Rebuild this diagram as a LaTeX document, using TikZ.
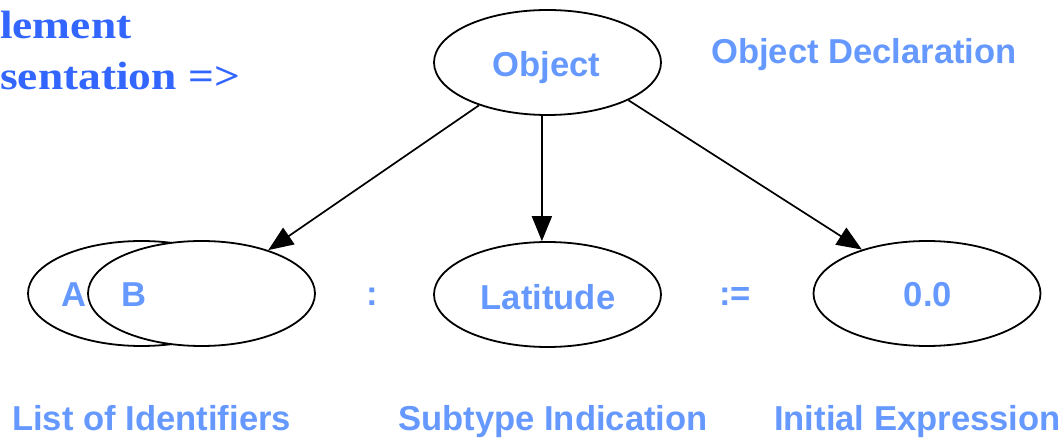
\documentclass[tikz,border=0pt]{standalone}
\usepackage{fontspec}
\setmainfont{Liberation Sans}
\newfontfamily\labelfont{Liberation Sans}[BoldFont={Liberation Sans Bold}]
\newfontfamily\headfont{Liberation Serif}[BoldFont={Liberation Serif Bold},BoldFeatures={FakeStretch=1.15}]
\usetikzlibrary{arrows.meta,shapes.geometric}
\definecolor{lblue}{RGB}{102,153,255}
\definecolor{hblue}{RGB}{51,102,255}
\tikzset{
  oval/.style={ellipse,draw=black,line width=1.8pt,inner sep=0pt,
    minimum width=227pt,minimum height=105pt},
  txt/.style={text=lblue,inner sep=0pt,
    font=\labelfont\bfseries\fontsize{34.6}{40}\selectfont},
  head/.style={text=hblue,inner sep=0pt,
    font=\headfont\bfseries\fontsize{39.5}{46}\selectfont},
  link/.style={line width=1.7pt,-{Triangle[length=25pt,width=20pt]}}
}
\begin{document}
\begin{tikzpicture}[x=1pt,y=-1pt]
\useasboundingbox (0,0) rectangle (1061,438);
% title fragment at the top left
\node[head,anchor=base west] (h1) at (0,39) {lement};
\node[head,anchor=base west] (h2) at (0,90) {sentation =>};
% root of the tree
\node[oval] (obj) at (547.5,62.5) {};
\node[txt,anchor=base] (objt) at (546.5,77) {Object};
\node[txt,anchor=base west] (decl) at (711,64) {Object Declaration};
% identifier list: two overlapping ovals
\node[oval] (a) at (141.5,293.5) {};
\node[oval,fill=white] (b) at (201.5,293.5) {};
\node[txt,anchor=base] (at) at (74,307) {A};
\node[txt,anchor=base] (bt) at (134,307) {B};
% subtype and initial value
\node[oval] (lat) at (547.5,294.5) {};
\node[txt,anchor=base] (latt) at (548,310) {Latitude};
\node[oval] (zero) at (927,293.5) {};
\node[txt,anchor=base] (zerot) at (928,307) {0.0};
% separators
\node[txt,anchor=base] (colon) at (372,306) {:};
\node[txt,anchor=base] (assign) at (735,306) {:=};
% captions
\node[txt,anchor=base west] (c1) at (12,431) {List of Identifiers};
\node[txt,anchor=base west] (c2) at (398,431) {Subtype Indication};
\node[txt,anchor=base west] (c3) at (774,431) {Initial Expression};
% edges
\draw[link] (obj.212) -- (b.33);
\draw[link] (obj.264) -- (lat.96);
\draw[link] (obj.335.6) -- (zero.146.6);
\end{tikzpicture}
\end{document}
